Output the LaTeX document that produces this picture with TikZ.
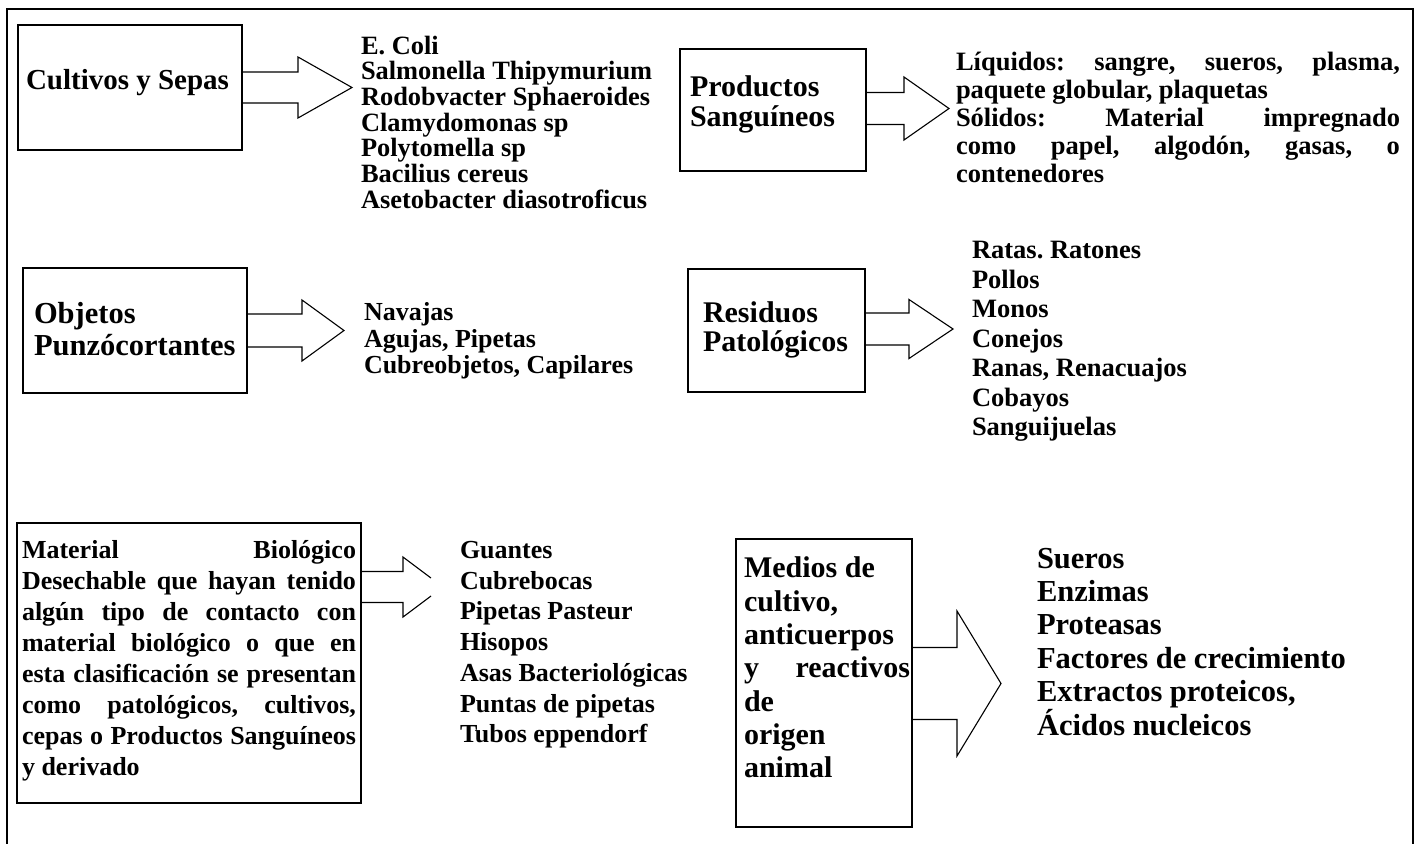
\documentclass[tikz,border=0pt]{standalone}
\usepackage{fontspec}
\setmainfont{Liberation Serif}
\usetikzlibrary{calc}
\tikzset{
  frame/.style={line width=2pt},
  box/.style={draw, line width=1.5pt, inner sep=0pt, outer sep=0pt, anchor=north west},
  arr/.style={line width=1.1pt, line join=miter},
  txt/.style={inner sep=0pt, outer sep=0pt, anchor=north west, align=left},
  fs/.style 2 args={font=\bfseries\fontsize{#1}{#2}\selectfont},
}
% #1 node, #2 centre offset, #3 shaft length, #4 shaft half height, #5 head length, #6 head half height
\newcommand\blockarrow[6]{%
  \draw[arr] ($(#1.east)+(0,#2-#4)$) -- ++(#3,0) -- ++(0,#4-#6) -- ++(#5,#6)
    -- ++(-#5,#6) -- ++(0,#4-#6) -- ++(-#3,0);}
\begin{document}
\lineskiplimit=-50pt\relax
\frenchspacing
\begin{tikzpicture}[x=1pt,y=-1pt]
\useasboundingbox (0,0) rectangle (1418,843);
\fill[white] (0,0) rectangle (1418,843);
% outer frame (open at the bottom)
\draw[frame] (7,850) -- (7,9) -- (1413,9) -- (1413,850);

% ---- boxes
\node[box, minimum width=224pt, minimum height=125pt] (A) at (18,25) {};
\node[box, minimum width=186pt, minimum height=122pt] (C) at (680,49) {};
\node[box, minimum width=224pt, minimum height=125pt] (B) at (23,268) {};
\node[box, minimum width=177pt, minimum height=123pt] (D) at (688,269) {};
\node[box, minimum width=344pt, minimum height=280pt] (E) at (17,523) {};
\node[box, minimum width=176pt, minimum height=288pt] (F) at (736,539) {};

% ---- block arrows
\blockarrow{A}{0}{56}{15.5}{54}{30.5}
\blockarrow{B}{0}{55}{16.5}{42}{30.5}
\blockarrow{C}{-1.5}{38}{16}{45}{31.5}
\blockarrow{D}{-1.5}{44}{16}{44}{29.5}
\blockarrow{F}{0.5}{45}{36}{44}{72.5}
% arrow of box E, its tip hidden by the list
\draw[arr] ($(E.east)+(0,-91.5)$) -- ++(42,0) -- ++(0,-14.5) -- ++(28,21);
\draw[arr] ($(E.east)+(0,-60.5)$) -- ++(42,0) -- ++(0,14.5) -- ++(28,-21);

% ---- texts in boxes
\node[txt, fs={29}{30}] (At) at (26,68.6) {\strut Cultivos y Sepas};
\node[txt, fs={30}{30}] (Ct) at (690,75.9) {\strut Productos\\Sanguíneos};
\node[txt, fs={30.5}{32}] (Bt) at (34,300.7) {\strut Objetos\\Punzócortantes};
\node[txt, fs={30}{29}] (Dt) at (703,301.6) {\strut Residuos\\Patológicos};
\node[txt, fs={26}{31}] (Et) at (22,536.9) {\strut\makebox[334pt][s]{Material Biológico}\\
  \makebox[334pt][s]{Desechable que hayan tenido}\\
  \makebox[334pt][s]{algún tipo de contacto con}\\
  \makebox[334pt][s]{material biológico o que en}\\
  \makebox[334pt][s]{esta clasificación se presentan}\\
  \makebox[334pt][s]{como patológicos, cultivos,}\\
  \makebox[334pt][s]{cepas o Productos Sanguíneos}\\
  y derivado};
\node[txt, fs={30}{33.3}] (Ft) at (744,554.6) {\strut Medios de\\cultivo,\\anticuerpos\\
  \makebox[166pt][s]{y reactivos}\\de\\origen\\animal};

% ---- lists
\node[txt, fs={26.4}{25.7}] (La) at (361,35.75) {\strut E. Coli\\Salmonella Thipymurium\\
  Rodobvacter Sphaeroides\\Clamydomonas sp\\Polytomella sp\\Bacilius cereus\\
  Asetobacter diasotroficus};
\node[txt, fs={26.5}{28}] (Lc) at (956,51.2) {\strut\makebox[444pt][s]{Líquidos: sangre, sueros, plasma,}\\
  paquete globular, plaquetas\\
  \makebox[444pt][s]{Sólidos: Material impregnado}\\
  \makebox[444pt][s]{como papel, algodón, gasas, o}\\
  contenedores};
\node[txt, fs={26}{26.5}] (Lb) at (364,302) {\strut Navajas\\Agujas, Pipetas\\Cubreobjetos, Capilares};
\node[txt, fs={26.5}{29.5}] (Ld) at (972,238.1) {\strut Ratas. Ratones\\Pollos\\Monos\\Conejos\\
  Ranas, Renacuajos\\Cobayos\\Sanguijuelas};
\node[txt, fs={26}{30.7}] (Le) at (460,537.1) {\strut Guantes\\Cubrebocas\\Pipetas Pasteur\\Hisopos\\
  Asas Bacteriológicas\\Puntas de pipetas\\Tubos eppendorf};
\node[txt, fs={30.5}{33.4}] (Lf) at (1037,544.7) {\strut Sueros\\Enzimas\\Proteasas\\
  Factores de crecimiento\\Extractos proteicos,\\Ácidos nucleicos};
\end{tikzpicture}
\end{document}
